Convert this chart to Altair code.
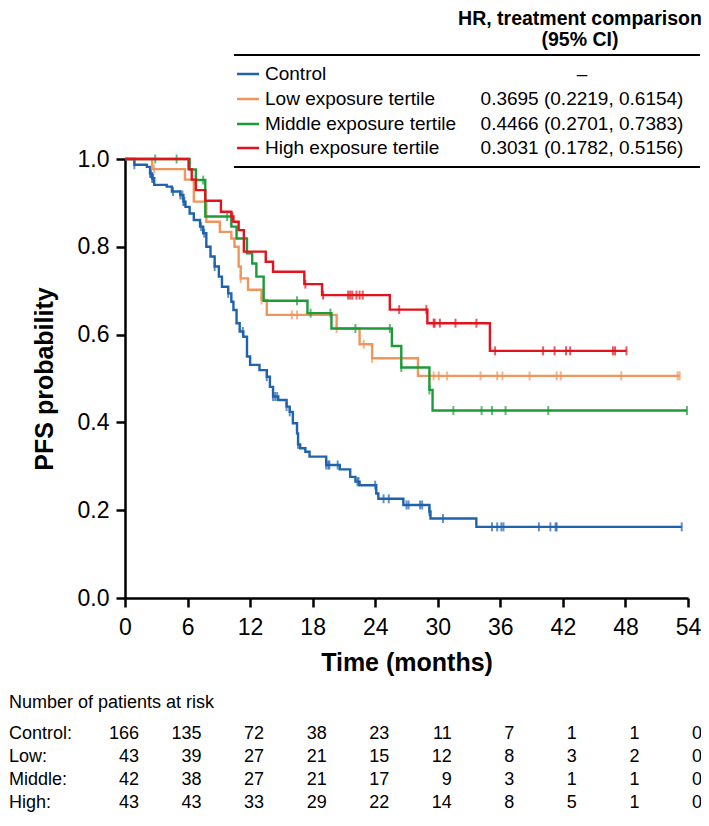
import altair as alt
import numpy as np
import pandas as pd

# ---------------- data ----------------
series_names = ["Control", "Low exposure tertile", "Middle exposure tertile", "High exposure tertile"]
series_short = ["Control:", "Low:", "Middle:", "High:"]
series_colors = ["#1f63ae", "#f0965c", "#1d9b3b", "#e2131c"]
hr_header = ["HR, treatment comparison", "(95% CI)"]
hr_labels = ["\u2013", "0.3695 (0.2219, 0.6154)", "0.4466 (0.2701, 0.7383)", "0.3031 (0.1782, 0.5156)"]

control_time = [0, 0.9, 2.1, 2.4, 2.6, 2.8, 4.0, 4.5, 5.3, 5.6, 5.8, 6.2, 6.6, 7.2, 7.5, 7.8,
                8.2, 8.6, 9.0, 9.3, 9.9, 10.2, 10.4, 10.7, 11.0, 11.35, 11.7, 12.0, 12.9, 13.6,
                13.9, 14.2, 14.7, 15.5, 15.8, 16.1, 16.5, 16.6, 16.8, 17.3, 17.7, 19.3, 20.6,
                21.6, 22.1, 22.5, 24.1, 24.3, 26.7, 29.2, 29.3, 33.7, 53.4]
control_surv = [1.0, 0.987, 0.982, 0.967, 0.956, 0.941, 0.937, 0.926, 0.918, 0.903, 0.891,
                0.876, 0.861, 0.846, 0.831, 0.80, 0.778, 0.755, 0.732, 0.709, 0.694, 0.675,
                0.656, 0.626, 0.607, 0.595, 0.550, 0.531, 0.519, 0.504, 0.481, 0.459, 0.451,
                0.436, 0.424, 0.398, 0.375, 0.35, 0.341, 0.333, 0.322, 0.303, 0.293, 0.276,
                0.265, 0.257, 0.238, 0.226, 0.212, 0.197, 0.181, 0.162, 0.162]
control_censor = [0.9, 2.4, 2.5, 2.6, 2.7, 4.6, 5.3, 5.5, 5.6, 5.7, 7.3, 7.6, 8.6, 9.9, 11.3,
                  13.6, 14.2, 14.4, 14.6, 15.5, 15.8, 16.6, 19.3, 19.5, 19.6, 20.4, 22.3, 22.4,
                  24.0, 24.8, 25.3, 27.0, 27.2, 28.3, 28.5, 29.2, 30.5, 35.2, 35.7, 36.1, 36.3,
                  39.7, 40.8, 41.3, 41.4, 53.4]

low_time = [0, 2.6, 5.75, 6.6, 7.8, 9.1, 10.2, 10.5, 10.9, 11.1, 11.8, 13.1, 13.6, 20.3, 22.5,
            23.7, 28.1, 53.2]
low_surv = [1.0, 0.977, 0.953, 0.903, 0.857, 0.834, 0.819, 0.800, 0.755, 0.728, 0.702, 0.679,
            0.645, 0.614, 0.578, 0.546, 0.506, 0.506]
low_censor = [2.8, 11.1, 13.1, 16.0, 16.5, 20.3, 22.9, 23.7, 29.2, 29.6, 30.1, 30.9, 34.1,
              35.7, 36.2, 38.8, 41.4, 41.8, 47.6, 53.0, 53.2]

middle_time = [0, 6.2, 6.8, 7.7, 10.2, 10.7, 11.7, 12.2, 12.6, 13.3, 17.5, 19.8, 25.6, 26.5,
               29.2, 29.5, 53.9]
middle_surv = [1.0, 0.976, 0.952, 0.869, 0.846, 0.819, 0.785, 0.762, 0.732, 0.677, 0.649,
               0.614, 0.574, 0.525, 0.474, 0.427, 0.427]
middle_censor = [2.9, 4.95, 6.8, 7.5, 9.8, 16.5, 17.8, 19.7, 22.1, 25.4, 26.5, 29.2, 31.5,
                 34.2, 35.2, 36.5, 40.6, 53.9]

high_time = [0, 6.1, 6.4, 6.8, 7.7, 9.2, 10.2, 10.4, 10.9, 11.4, 13.5, 14.2, 17.2, 18.9, 25.4,
             29.0, 35.0, 48.1]
high_surv = [1.0, 0.977, 0.953, 0.929, 0.905, 0.880, 0.869, 0.857, 0.838, 0.789, 0.766, 0.743,
             0.715, 0.690, 0.657, 0.626, 0.563, 0.563]
high_censor = [10.3, 17.3, 19.0, 21.4, 21.6, 21.8, 22.2, 22.5, 22.8, 26.3, 28.9, 29.6, 29.7,
               30.2, 31.7, 33.7, 35.5, 40.1, 41.2, 42.3, 42.7, 46.8, 47.0, 48.1]

risk_times = [0, 6, 12, 18, 24, 30, 36, 42, 48, 54]
risk_control = [166, 135, 72, 38, 23, 11, 7, 1, 1, 0]
risk_low = [43, 39, 27, 21, 15, 12, 8, 3, 2, 0]
risk_middle = [42, 38, 27, 21, 17, 9, 3, 1, 1, 0]
risk_high = [43, 43, 33, 29, 22, 14, 8, 5, 1, 0]

curves = [(control_time, control_surv, control_censor),
          (low_time, low_surv, low_censor),
          (middle_time, middle_surv, middle_censor),
          (high_time, high_surv, high_censor)]
risk_rows = [risk_control, risk_low, risk_middle, risk_high]

# ---------------- chart ----------------
FONT = "Liberation Sans"
OX, OY = 125, 159  # page position of plot origin


def px(x):
    return x - OX


def py(y):
    return y - OY


X = alt.X("t:Q", scale=alt.Scale(domain=[0, 54], nice=False, zero=False),
          axis=alt.Axis(values=risk_times, title="Time (months)", labelFlush=False,
                        labelPadding=9, titlePadding=11))
Y = alt.Y("s:Q", scale=alt.Scale(domain=[0, 1], nice=False, zero=False),
          axis=alt.Axis(values=[0, 0.2, 0.4, 0.6, 0.8, 1.0], format=".1f",
                        title="PFS probability", labelFlush=False,
                        labelPadding=7, titlePadding=20))

layers = []
for (t, s, c), color in zip(curves, series_colors):
    df = pd.DataFrame({"t": t, "s": s})
    idx = np.searchsorted(np.array(t), np.array(c), side="right") - 1
    cdf = pd.DataFrame({"t": c, "s": np.array(s)[idx]})
    layers.append(alt.Chart(df).mark_line(interpolate="step-after", strokeWidth=2.4,
                                          color=color).encode(x=X, y=Y))
    layers.append(alt.Chart(cdf).mark_tick(orient="vertical", size=9, thickness=2,
                                           color=color).encode(x=X, y=Y))

one = alt.InlineData(values=[{"k": 1}])

# legend / HR table
for txt, yy in zip(hr_header, [19, 40]):
    layers.append(alt.Chart(one).mark_text(text=txt, font=FONT, fontSize=19.5, fontWeight="bold",
                                           align="center", baseline="middle", color="black")
                  .encode(x=alt.value(px(580)), y=alt.value(py(yy))))
for yy in [55, 167]:
    layers.append(alt.Chart(one).mark_rule(color="black", strokeWidth=2)
                  .encode(x=alt.value(px(234)), x2=alt.value(px(700)), y=alt.value(py(yy))))
for name, hr, color, yy in zip(series_names, hr_labels, series_colors, [74, 99, 124, 148]):
    layers.append(alt.Chart(one).mark_rule(color=color, strokeWidth=2.5)
                  .encode(x=alt.value(px(237)), x2=alt.value(px(259)), y=alt.value(py(yy))))
    layers.append(alt.Chart(one).mark_text(text=name, font=FONT, fontSize=19, align="left",
                                           baseline="middle", color="black")
                  .encode(x=alt.value(px(265)), y=alt.value(py(yy))))
    layers.append(alt.Chart(one).mark_text(text=hr, font=FONT, fontSize=19, align="center",
                                           baseline="middle", color="black")
                  .encode(x=alt.value(px(582)), y=alt.value(py(yy))))

# at-risk table
layers.append(alt.Chart(one).mark_text(text="Number of patients at risk", font=FONT, fontSize=18,
                                       align="left", baseline="middle", color="black")
              .encode(x=alt.value(px(9)), y=alt.value(py(703))))
for lab, vals, yy in zip(series_short, risk_rows, [734, 757, 780, 803]):
    layers.append(alt.Chart(one).mark_text(text=lab, font=FONT, fontSize=18, align="left",
                                           baseline="middle", color="black")
                  .encode(x=alt.value(px(9)), y=alt.value(py(yy))))
    rdf = pd.DataFrame({"t": risk_times, "n": vals})
    layers.append(alt.Chart(rdf).mark_text(font=FONT, fontSize=18, align="right", dx=14,
                                           baseline="middle", color="black")
                  .encode(x=X, y=alt.value(py(yy)), text="n:Q"))

chart = alt.layer(*layers).properties(
    width=563, height=439,
    padding={"left": 117, "top": 151, "right": 13, "bottom": 219},
    autosize=alt.AutoSizeParams(type="none"),
    background="white",
).configure_view(stroke=None).configure_axis(
    grid=False, domainColor="black", domainWidth=2.5, tickColor="black", tickWidth=2.5,
    tickSize=9, labelFont=FONT, labelFontSize=23, labelColor="black", titleFont=FONT,
    titleFontSize=25, titleFontWeight="bold", titleColor="black",
)

chart.save("out.html", embed_options={"renderer": "svg", "actions": False})
